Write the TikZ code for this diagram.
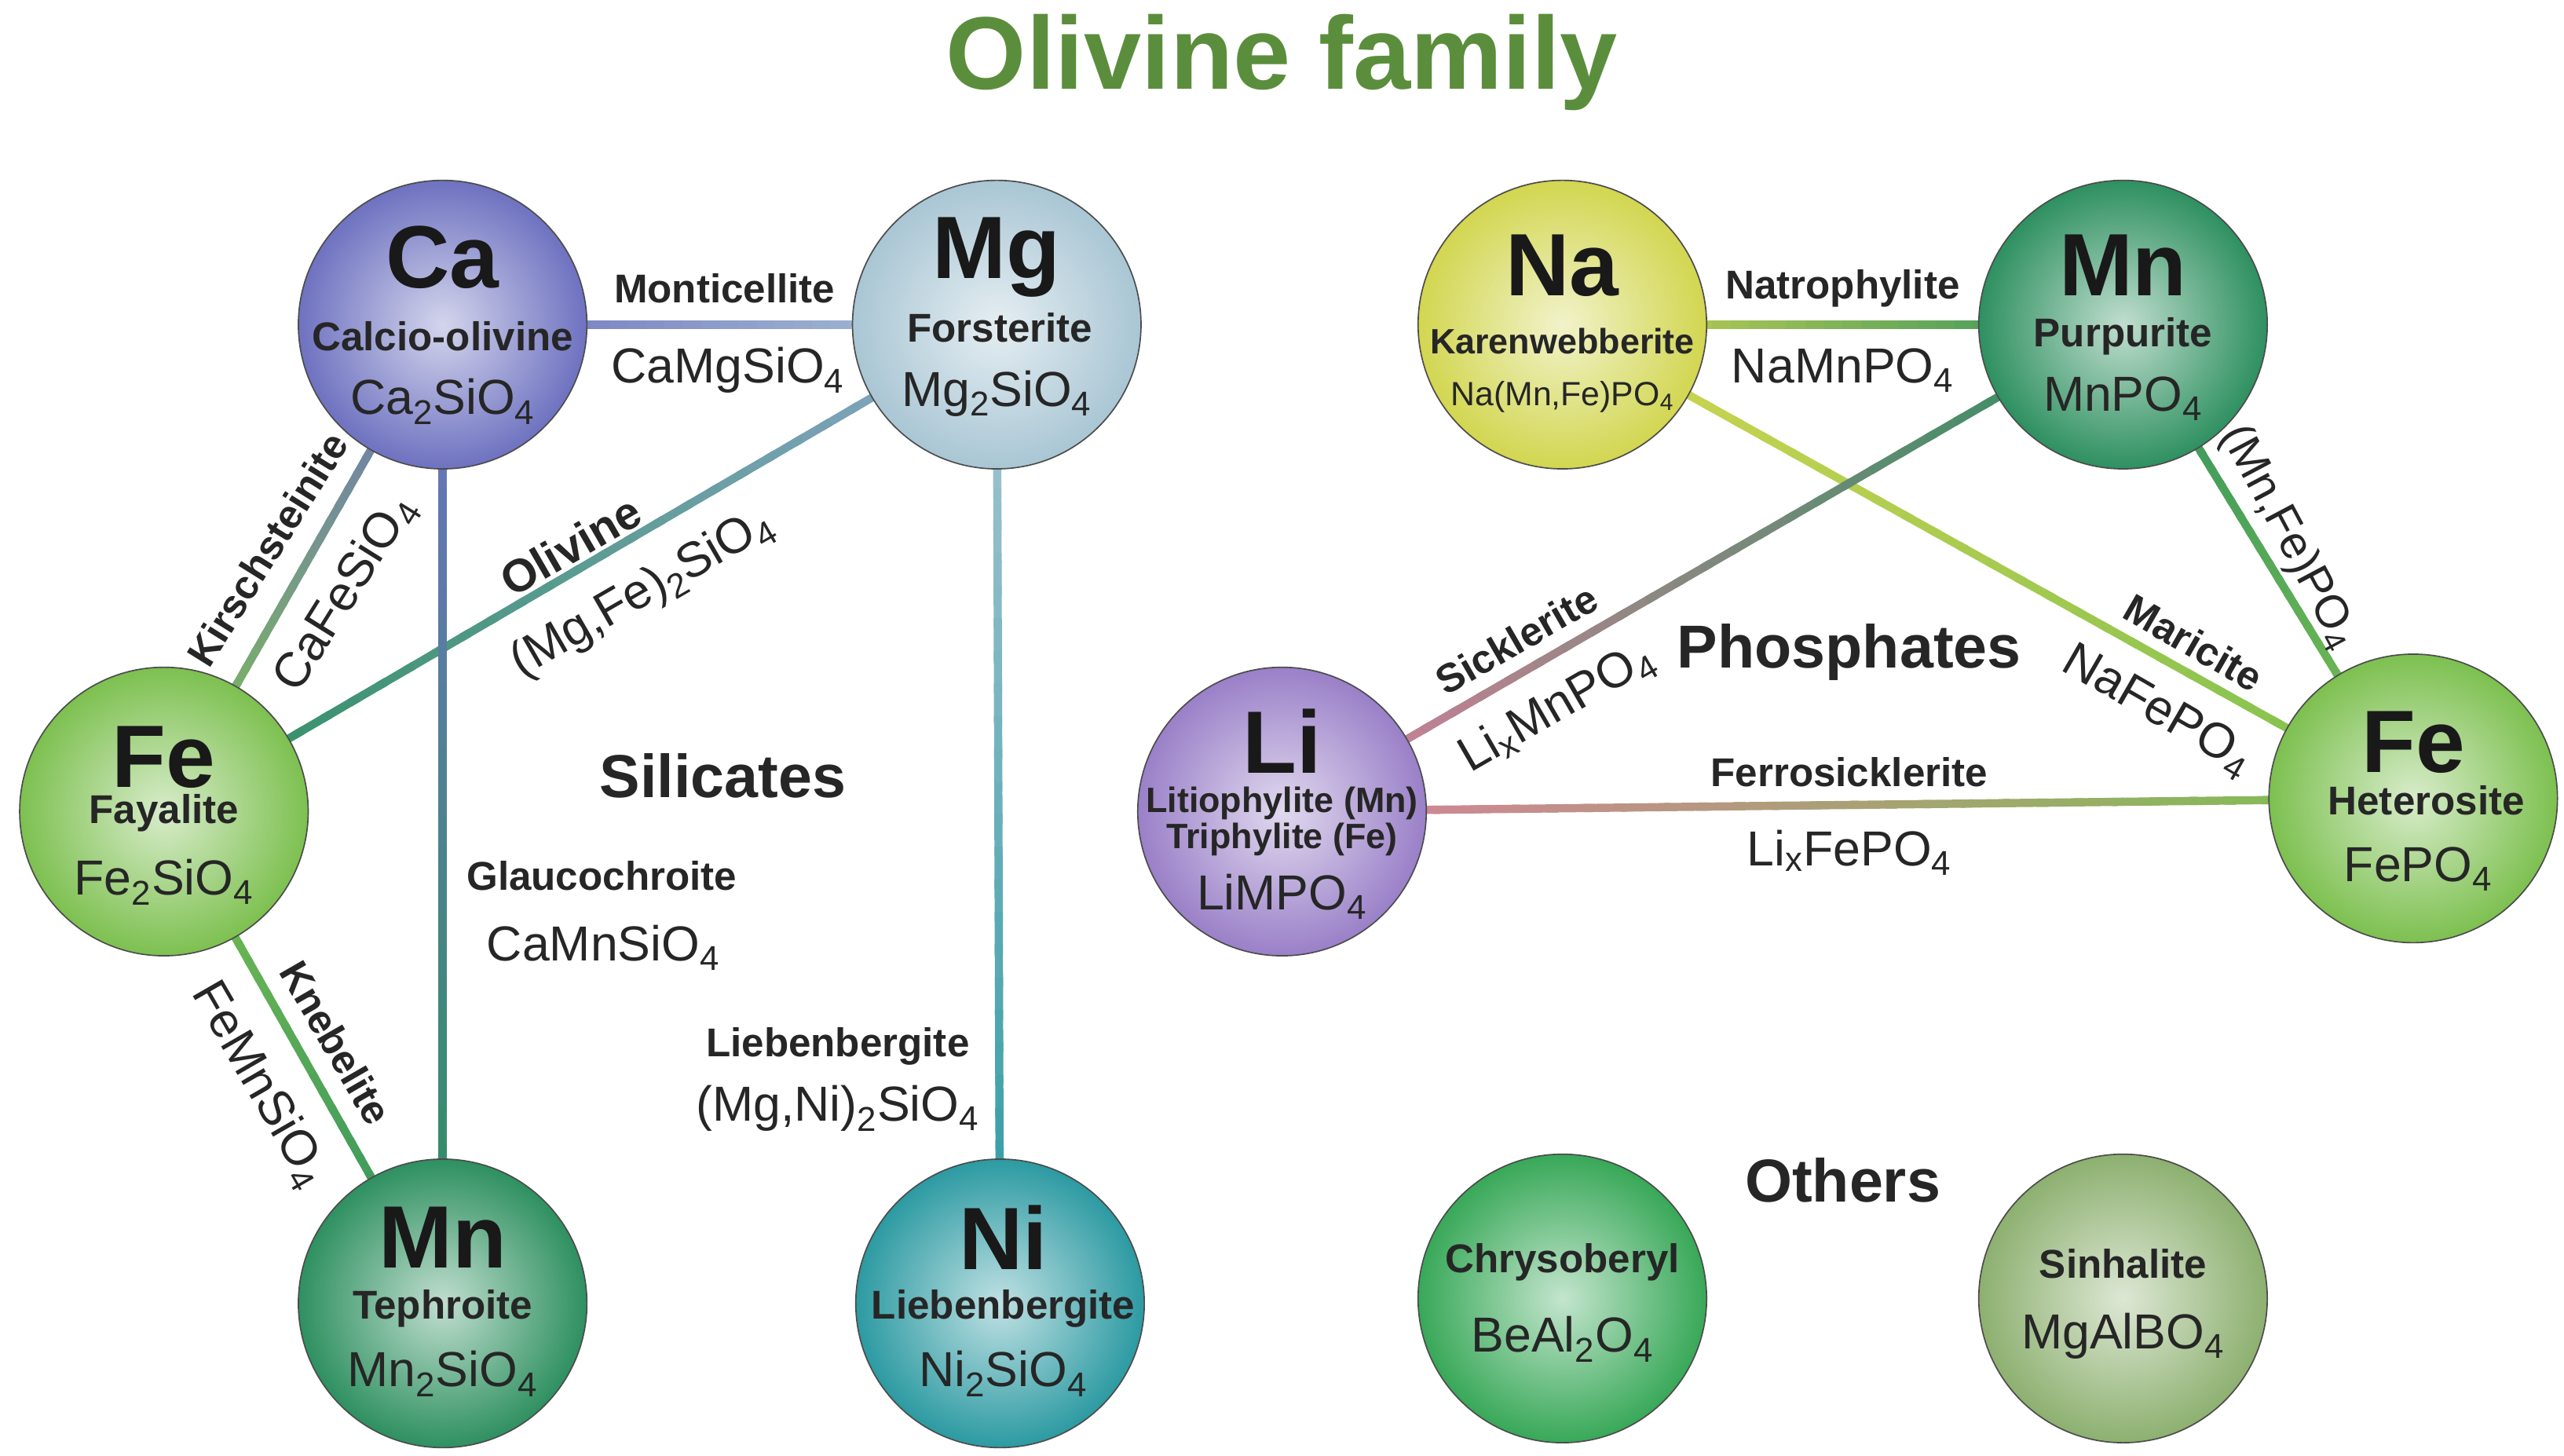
\documentclass[tikz,border=0pt]{standalone}
\usepackage{fontspec}
\setmainfont{Liberation Sans}
\usetikzlibrary{calc}
\definecolor{cCa}{HTML}{6E72C0}
\definecolor{cMg}{HTML}{A9C6D4}
\definecolor{cFe}{HTML}{7DC050}
\definecolor{cMn}{HTML}{2E9060}
\definecolor{cNi}{HTML}{2C9AA2}
\definecolor{cNa}{HTML}{D2D650}
\definecolor{cLi}{HTML}{9A80C8}
\definecolor{cPk}{HTML}{D8809C}
\definecolor{cCh}{HTML}{38A858}
\definecolor{cSi}{HTML}{8DB070}
\definecolor{cTitle}{HTML}{5B8E3C}
\definecolor{cMgL}{HTML}{8AA6C8}
\newcommand\gline[4]{\foreach \k in {0,...,29}{\pgfmathsetmacro\ta{\k/30}\pgfmathsetmacro\tb{(\k+1.3)/30}\pgfmathtruncatemacro\p{100-\k*100/29}\draw[line width=5pt,color={#3!\p!#4}] ($(#1)!\ta!(#2)$) -- ($(#1)!\tb!(#2)$);}}
\newcommand\sub[1]{\textsubscript{#1}}
\tikzset{
 ball/.style={circle,draw=black!70,line width=0.8pt,minimum size=176pt,inner sep=0pt,inner color=#1!30!white,outer color=#1},
 sym/.style={font=\fontsize{54}{54}\selectfont\bfseries,text=black!90},
 nm/.style={font=\fontsize{24.5}{24.5}\selectfont\bfseries,text=black!85},
 fm/.style={font=\fontsize{30}{30}\selectfont,text=black!85},
 hd/.style={font=\fontsize{37}{37}\selectfont\bfseries,text=black!85},
}
\begin{document}
\begin{tikzpicture}[x=1pt,y=-1pt]
\useasboundingbox[fill=white] (0,0) rectangle (1564,888);
\node[font=\fontsize{63}{63}\selectfont\bfseries,text=cTitle] (title) at (782,38) {Olivine family};
\coordinate (Ca) at (270,198); \coordinate (Mg) at (608,198);
\coordinate (Fe) at (100,495); \coordinate (Mn) at (270,795);
\coordinate (Ni) at (610,795);
\coordinate (Na) at (953,198); \coordinate (Mn2) at (1295,198);
\coordinate (Li) at (782,495); \coordinate (Fe2) at (1472,487);
\coordinate (Ch) at (953,792); \coordinate (Si) at (1295,792);
% lines
\gline{Ca}{Mg}{cCa}{cMg}
\gline{Ca}{Fe}{cCa}{cFe}
\gline{Mg}{Fe}{cMgL}{cMn}
\gline{Ca}{Mn}{cCa}{cMn}
\gline{Mg}{Ni}{cMg}{cNi}
\gline{Fe}{Mn}{cFe}{cMn}
\gline{Na}{Mn2}{cNa}{cMn}
\gline{Mn2}{Fe2}{cMn}{cFe}
\gline{Na}{Fe2}{cNa}{cFe}
\gline{Li}{Mn2}{cPk}{cMn}
\gline{Li}{Fe2}{cPk}{cFe}
% balls
\node[ball=cCa] (nCa) at (Ca) {};
\node[ball=cMg] (nMg) at (Mg) {};
\node[ball=cFe] (nFe) at (Fe) {};
\node[ball=cMn] (nMn) at (Mn) {};
\node[ball=cNi] (nNi) at (Ni) {};
\node[ball=cNa] (nNa) at (Na) {};
\node[ball=cMn] (nMn2) at (Mn2) {};
\node[ball=cLi] (nLi) at (Li) {};
\node[ball=cFe] (nFe2) at (Fe2) {};
\node[ball=cCh] (nCh) at (Ch) {};
\node[ball=cSi] (nSi) at (Si) {};
% texts in balls
\node[sym] (tCa) at (270,157) {Ca}; \node[nm] (mCa) at (270,205) {Calcio-olivine}; \node[fm] (fCa) at (270,245) {Ca\sub{2}SiO\sub{4}};
\node[sym] (tMg) at (608,157) {Mg}; \node[nm] (mMg) at (610,200) {Forsterite}; \node[fm] (fMg) at (608,240) {Mg\sub{2}SiO\sub{4}};
\node[sym] (tFe) at (100,462) {Fe}; \node[nm] (mFe) at (100,496) {Fayalite}; \node[fm] (fFe) at (100,538) {Fe\sub{2}SiO\sub{4}};
\node[sym] (tMn) at (270,755) {Mn}; \node[nm] (mMn) at (270,798) {Tephroite}; \node[fm] (fMn) at (270,838) {Mn\sub{2}SiO\sub{4}};
\node[sym] (tNi) at (612,755) {Ni}; \node[nm] (mNi) at (612,798) {Liebenbergite}; \node[fm] (fNi) at (612,838) {Ni\sub{2}SiO\sub{4}};
\node[sym] (tNa) at (953,162) {Na}; \node[nm,font=\fontsize{21.5}{21.5}\selectfont\bfseries] (mNa) at (953,208) {Karenwebberite}; \node[fm,font=\fontsize{20.5}{20.5}\selectfont] (fNa) at (953,242) {Na(Mn,Fe)PO\sub{4}};
\node[sym] (tMn2) at (1295,162) {Mn}; \node[nm] (mMn2) at (1295,205) {Purpurite}; \node[fm] (fMn2) at (1295,243) {MnPO\sub{4}};
\node[sym] (tLi) at (782,452) {Li}; \node[nm,font=\fontsize{21.5}{21.5}\selectfont\bfseries,align=center] (mLi) at (782,501) {Litiophylite (Mn)\\[1pt]Triphylite (Fe)}; \node[fm] (fLi) at (782,547) {LiMPO\sub{4}};
\node[sym] (tFe2) at (1472,453) {Fe}; \node[nm] (mFe2) at (1480,488) {Heterosite}; \node[fm] (fFe2) at (1475,530) {FePO\sub{4}};
\node[nm] (mCh) at (953,770) {Chrysoberyl}; \node[fm] (fCh) at (953,817) {BeAl\sub{2}O\sub{4}};
\node[nm] (mSi) at (1295,771) {Sinhalite}; \node[fm] (fSi) at (1295,815) {MgAlBO\sub{4}};
% edge labels
\node[nm] (l1) at (442,176) {Monticellite}; \node[fm] (l1f) at (444,226) {CaMgSiO\sub{4}};
\node[nm,rotate=58] (l2) at (163,335) {Kirschsteinite}; \node[fm,rotate=58] (l2f) at (211,362) {CaFeSiO\sub{4}};
\node[nm,font=\fontsize{28}{28}\selectfont\bfseries,rotate=30] (l3) at (348,333) {Olivine}; \node[fm,rotate=30] (l3f) at (392,362) {(Mg,Fe)\sub{2}SiO\sub{4}};
\node[hd] (sil) at (441,473) {Silicates};
\node[nm] (l4) at (367,534) {Glaucochroite}; \node[fm] (l4f) at (368,578) {CaMnSiO\sub{4}};
\node[nm,rotate=-60] (l5) at (205,636) {Knebelite}; \node[fm,rotate=-60] (l5f) at (158,662) {FeMnSiO\sub{4}};
\node[nm] (l6) at (511,638) {Liebenbergite}; \node[fm] (l6f) at (511,676) {(Mg,Ni)\sub{2}SiO\sub{4}};
\node[nm] (l7) at (1124,176) {Natrophylite}; \node[fm] (l7f) at (1124,226) {NaMnPO\sub{4}};
\node[fm,rotate=-62,font=\fontsize{28}{28}\selectfont] (l8f) at (1396,328) {(Mn,Fe)PO\sub{4}};
\node[nm,rotate=-30] (l9) at (1338,392) {Maricite}; \node[fm,rotate=-30] (l9f) at (1316,434) {NaFePO\sub{4}};
\node[nm,rotate=30] (l10) at (925,390) {Sicklerite}; \node[fm,rotate=30] (l10f) at (950,432) {Li\sub{x}MnPO\sub{4}};
\node[hd] (pho) at (1128,398) {Phosphates};
\node[nm] (l11) at (1128,471) {Ferrosicklerite}; \node[fm] (l11f) at (1128,520) {Li\sub{x}FePO\sub{4}};
\node[hd] (oth) at (1124,720) {Others};
\end{tikzpicture}
\end{document}
